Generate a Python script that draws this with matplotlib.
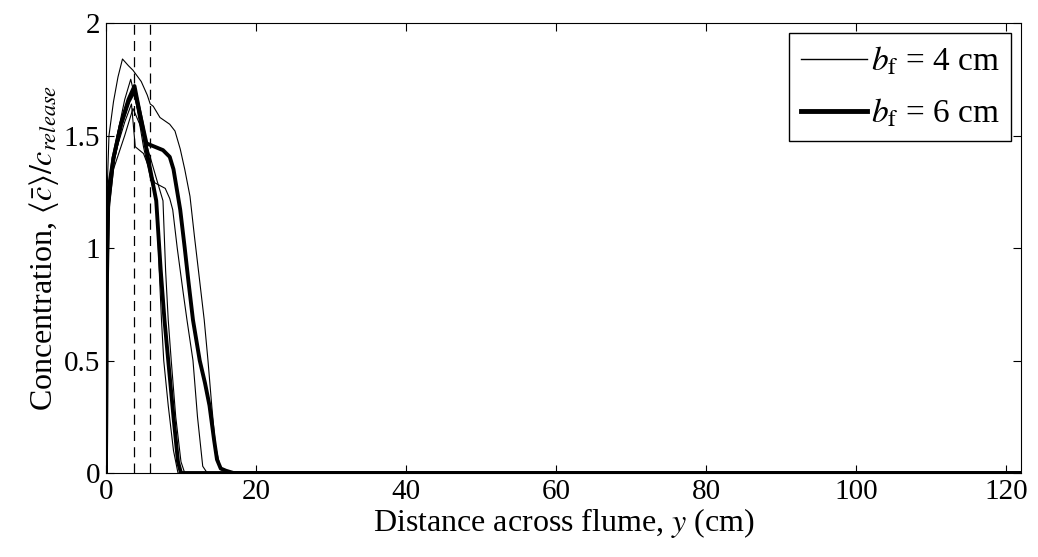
import numpy as np
import matplotlib
matplotlib.use("Agg")
import matplotlib.pyplot as plt

plt.rcParams['font.family'] = ['Liberation Serif', 'DejaVu Serif']
plt.rcParams['mathtext.fontset'] = 'stix'

# distance across flume (cm) and normalised concentration
# thin curves, b_f = 4 cm
y_t1 = [0, 0.1, 0.4, 1.0, 1.6, 2.2, 3.0, 3.6, 4.7, 5.5, 5.9, 6.3, 7.2, 8.5, 9.2, 9.9,
        10.5, 11.2, 11.8, 12.4, 13.1, 13.6, 14.1, 14.6, 15.2, 16, 122]
c_t1 = [0, 1.2, 1.5, 1.65, 1.76, 1.84, 1.81, 1.79, 1.74, 1.68, 1.64, 1.63, 1.58, 1.55, 1.52, 1.44,
        1.35, 1.23, 1.05, 0.88, 0.68, 0.5, 0.3, 0.12, 0.03, 0, 0]
y_t2 = [0, 0.1, 0.5, 1.5, 2.5, 3.4, 3.9, 5.0, 6.5, 7.9, 8.5, 8.9, 9.5, 10.3, 10.8, 11.6,
        12.2, 12.9, 13.5, 122]
c_t2 = [0, 0.9, 1.3, 1.45, 1.56, 1.64, 1.45, 1.42, 1.29, 1.265, 1.22, 1.17, 1.0, 0.8, 0.68, 0.5,
        0.25, 0.03, 0, 0]
y_t3 = [0, 0.1, 0.5, 1.5, 2.5, 3.3, 4.0, 5.0, 6.0, 6.75, 7.1, 7.4, 7.7, 8.3, 9.0, 9.6, 122]
c_t3 = [0, 1.0, 1.3, 1.5, 1.66, 1.75, 1.65, 1.45, 1.3, 1.21, 0.9, 0.68, 0.5, 0.3, 0.1, 0, 0]
y_t4 = [0, 0.2, 1.0, 2.5, 3.6, 4.5, 5.5, 6.8, 7.6, 7.95, 8.3, 8.7, 9.3, 10.0, 10.5, 122]
c_t4 = [0, 1.1, 1.35, 1.5, 1.62, 1.55, 1.45, 1.30, 1.21, 0.9, 0.68, 0.5, 0.25, 0.05, 0, 0]

# thick curves, b_f = 6 cm
y_k1 = [0, 0.1, 0.3, 1.0, 2.0, 3.0, 3.8, 4.8, 5.6, 6.7, 7.3, 7.8, 8.3, 9.0, 9.6, 10.0, 122]
c_k1 = [0, 0.8, 1.2, 1.4, 1.55, 1.66, 1.72, 1.55, 1.40, 1.21, 0.9, 0.68, 0.5, 0.25, 0.05, 0, 0]
y_k2 = [0, 0.1, 0.3, 1.0, 2.0, 3.0, 3.8, 4.5, 5.4, 6.5, 7.6, 8.5, 9.0, 9.4, 9.9, 10.5,
        11.0, 11.6, 12.5, 13.2, 13.8, 14.4, 14.8, 15.3, 16, 17, 122]
c_k2 = [0, 0.9, 1.25, 1.4, 1.55, 1.65, 1.70, 1.6, 1.465, 1.45, 1.435, 1.405, 1.35, 1.27, 1.17, 1.0,
        0.85, 0.68, 0.5, 0.4, 0.3, 0.15, 0.06, 0.02, 0.01, 0, 0]

dashed_y = [3.8, 5.9]

fig = plt.figure(figsize=(10.38, 5.57), dpi=100)
ax = fig.add_axes([0.1021, 0.1508, 0.8815, 0.8079])

for yy, cc in [(y_t1, c_t1), (y_t2, c_t2), (y_t3, c_t3), (y_t4, c_t4)]:
    ax.plot(yy, cc, color='k', lw=0.8)
for yy, cc in [(y_k1, c_k1), (y_k2, c_k2)]:
    ax.plot(yy, cc, color='k', lw=2.8)

for d in dashed_y:
    ax.axvline(d, color='k', lw=0.9, ls=(0, (8, 5)))

# legend handles
ax.plot([], [], color='k', lw=1.0, label=r'$b_{\mathrm{f}}$ = 4 cm')
ax.plot([], [], color='k', lw=3.5, label=r'$b_{\mathrm{f}}$ = 6 cm')
handles, labels = ax.get_legend_handles_labels()
leg = ax.legend(handles[-2:], labels[-2:], loc='upper right', fontsize=24,
                handlelength=2.0, handletextpad=0.1, borderpad=0.35,
                labelspacing=0.6, fancybox=False, framealpha=1,
                edgecolor='k', borderaxespad=0.3)
leg.get_frame().set_linewidth(1.0)

ax.set_xlim(0, 122)
ax.set_ylim(0, 2)
ax.set_xticks([0, 20, 40, 60, 80, 100, 120])
ax.set_yticks([0, 0.5, 1, 1.5, 2])
ax.set_yticklabels(['0', '0.5', '1', '1.5', '2'])
ax.tick_params(direction='in', top=True, right=True, length=6, width=0.8,
               labelsize=21, pad=4)
for s in ax.spines.values():
    s.set_linewidth(0.8)

ax.set_xlabel(r'Distance across flume, $y$ (cm)', fontsize=23, labelpad=1)
ax.set_ylabel(r'Concentration, $\langle\bar{c}\rangle/c_{release}$', fontsize=23, labelpad=2)

fig.savefig('out.png', dpi=100)
